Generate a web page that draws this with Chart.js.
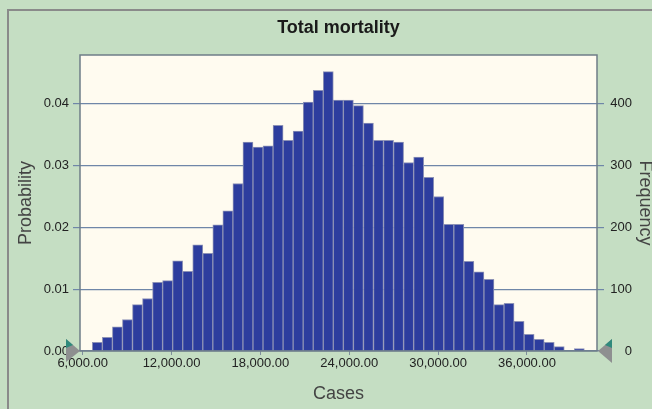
<!DOCTYPE html>
<html>
<head>
<meta charset="utf-8">
<script src="https://cdn.jsdelivr.net/npm/chart.js@4"></script>
<style>
  html, body { margin: 0; padding: 0; background: #c5dec3; overflow: hidden; }
  canvas { display: block; }
</style>
</head>
<body>
<canvas id="chart" width="652" height="409"></canvas>
<script>
// histogram of 10,000 trials, 49 bins
const chartTitle = "Total mortality";
const binStart = 6650;
const binWidth = 678;
const frequency = [14, 22, 39, 51, 75, 85, 111, 114, 146, 129, 172, 158, 204, 227, 271, 338, 330, 332, 365, 341,
  356, 403, 422, 452, 406, 406, 397, 369, 341, 341, 338, 305, 314, 281, 250, 205, 205, 145, 128, 116,
  75, 77, 48, 27, 19, 14, 7, 0, 4];
const trials = 10000;
const xTicks = [6000, 12000, 18000, 24000, 30000, 36000];
const probTicks = [0, 0.01, 0.02, 0.03, 0.04];
const freqTicks = [0, 100, 200, 300, 400];

const xMin = 5818, xMax = 40727;
const freqMax = 479;

Chart.defaults.font.family = '"Liberation Sans", Arial, sans-serif';
Chart.defaults.color = "#222";

const points = frequency.map((f, i) => ({ x: binStart + binWidth * (i + 0.5), y: f }));

/* ============ background, frame, plot box, grabbers ============ */
const frame = {
  id: "frame",
  beforeDraw(chart) {
    const { ctx, chartArea: a } = chart;
    ctx.save();
    ctx.fillStyle = "#c5dec3";
    ctx.fillRect(0, 0, chart.width, chart.height);
    ctx.strokeStyle = "#8a8a8a";
    ctx.lineWidth = 2;
    ctx.beginPath();
    ctx.moveTo(8, chart.height);
    ctx.lineTo(8, 10);
    ctx.lineTo(chart.width, 10);
    ctx.stroke();
    ctx.fillStyle = "#fffbf0";
    ctx.fillRect(a.left, a.top, a.right - a.left, a.bottom - a.top);
    ctx.restore();
  },
  afterDraw(chart) {
    const { ctx, chartArea: a } = chart;
    ctx.save();
    ctx.strokeStyle = "#6f7d88";
    ctx.lineWidth = 1.5;
    ctx.strokeRect(a.left, a.top, a.right - a.left, a.bottom - a.top);

    // left grabber
    ctx.fillStyle = "#8e8f90";
    ctx.beginPath();
    ctx.moveTo(a.left, a.bottom);
    ctx.lineTo(a.left - 14, a.bottom - 12);
    ctx.lineTo(a.left - 14, a.bottom + 11);
    ctx.closePath();
    ctx.fill();
    ctx.fillStyle = "#2f8a7c";
    ctx.beginPath();
    ctx.moveTo(a.left - 7, a.bottom - 6);
    ctx.lineTo(a.left - 14, a.bottom - 12);
    ctx.lineTo(a.left - 14, a.bottom - 3);
    ctx.closePath();
    ctx.fill();

    // right grabber
    ctx.fillStyle = "#8e8f90";
    ctx.beginPath();
    ctx.moveTo(a.right + 1, a.bottom);
    ctx.lineTo(a.right + 15, a.bottom - 12);
    ctx.lineTo(a.right + 15, a.bottom + 12);
    ctx.closePath();
    ctx.fill();
    ctx.fillStyle = "#2f8a7c";
    ctx.beginPath();
    ctx.moveTo(a.right + 8, a.bottom - 6);
    ctx.lineTo(a.right + 15, a.bottom - 12);
    ctx.lineTo(a.right + 15, a.bottom - 3);
    ctx.closePath();
    ctx.fill();
    ctx.restore();
  }
};

new Chart(document.getElementById("chart"), {
  type: "bar",
  data: {
    datasets: [{
      label: "Frequency",
      data: points,
      yAxisID: "y1",
      backgroundColor: "#2d3d9e",
      borderColor: "#8d92b6",
      borderWidth: 1,
      borderSkipped: "bottom",
      barPercentage: 1,
      categoryPercentage: 1
    }]
  },
  options: {
    responsive: false,
    animation: false,
    layout: { padding: { left: 0, top: 0, bottom: 0, right: 20 } },
    plugins: {
      legend: { display: false },
      tooltip: { enabled: false },
      title: {
        display: true,
        text: chartTitle,
        fullSize: false,
        color: "#1a1a1a",
        font: { size: 18, weight: "bold" },
        padding: { top: 17.5, bottom: 15.9 }
      }
    },
    scales: {
      x: {
        type: "linear",
        offset: false,
        min: xMin,
        max: xMax,
        afterFit: s => { s.height = 58; },
        afterBuildTicks: s => { s.ticks = xTicks.map(v => ({ value: v })); },
        grid: { offset: false, drawOnChartArea: false, drawTicks: true, tickLength: 4, color: "#7f8f9c" },
        border: { display: false },
        ticks: {
          padding: 1,
          maxRotation: 0,
          font: { size: 13 },
          color: "#222",
          callback: v => v.toLocaleString("en-US", { minimumFractionDigits: 2, maximumFractionDigits: 2 })
        },
        title: { display: true, text: "Cases", font: { size: 18, lineHeight: 1 }, color: "#444", padding: { top: 0, bottom: 6 } }
      },
      y: {
        position: "left",
        min: 0,
        max: freqMax / trials,
        afterFit: s => { s.width = 80; },
        afterBuildTicks: s => { s.ticks = probTicks.map(v => ({ value: v })); },
        grid: { color: "#6f86a8", lineWidth: 1.2, tickLength: 7 },
        border: { display: false },
        ticks: { padding: 4, font: { size: 13 }, color: "#222", callback: v => v.toFixed(2) },
        title: { display: true, text: "Probability", font: { size: 18, lineHeight: 1 }, color: "#444", padding: { top: 17, bottom: 0 } }
      },
      y1: {
        position: "right",
        min: 0,
        max: freqMax,
        afterFit: s => { s.width = 35; },
        afterBuildTicks: s => { s.ticks = freqTicks.map(v => ({ value: v })); },
        grid: { drawOnChartArea: false, color: "#6f86a8", lineWidth: 1.2, tickLength: 7 },
        border: { display: false },
        ticks: { padding: 3, crossAlign: "far", font: { size: 13 }, color: "#222" },
        title: { display: true, text: "Frequency", font: { size: 18, lineHeight: 1 }, color: "#444", padding: { top: -22, bottom: 0 } }
      }
    }
  },
  plugins: [frame]
});
</script>
</body>
</html>
